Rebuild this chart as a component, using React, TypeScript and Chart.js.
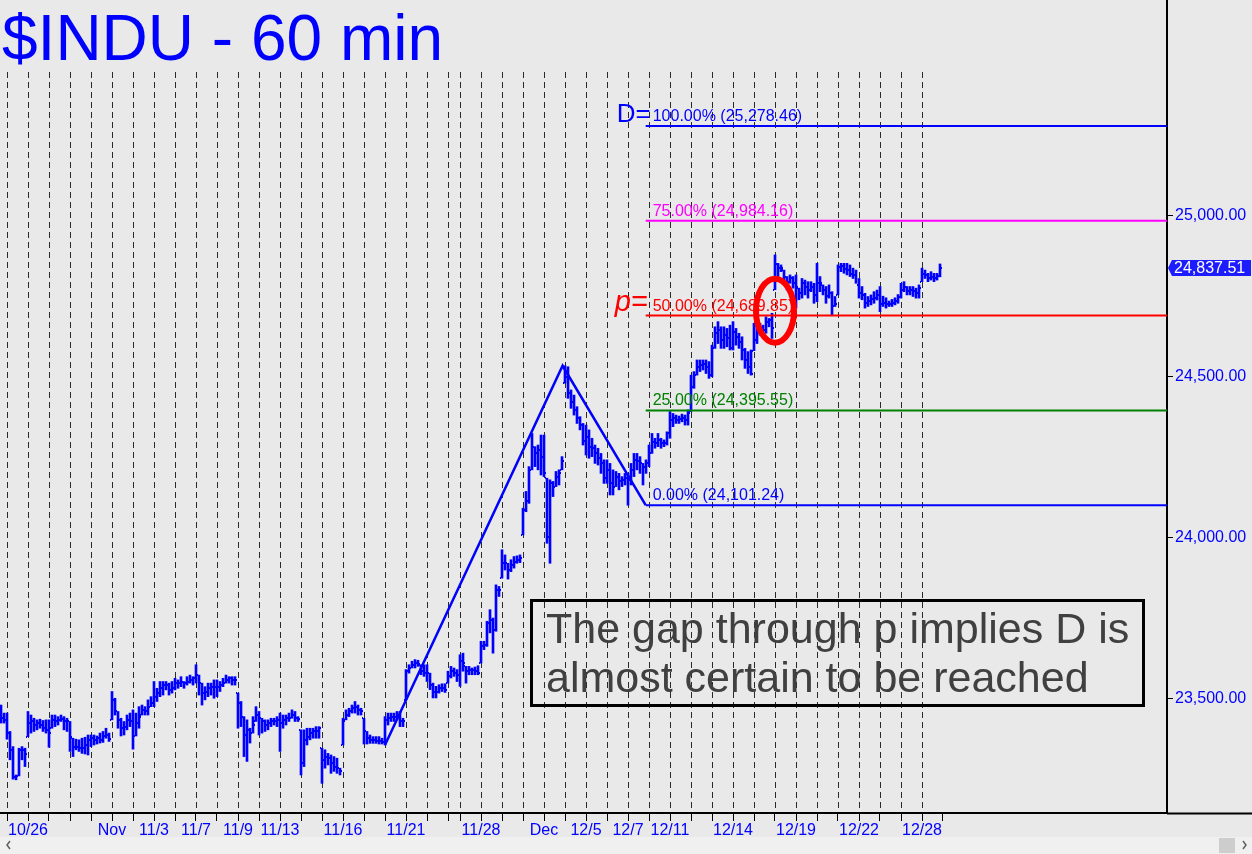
import React, { useEffect, useRef } from 'react';
import { Chart, registerables } from 'chart.js';

Chart.register(...registerables);

// ---------------- DATA ----------------
const dayDates = ['10/25','10/26','10/27','10/30','10/31','11/1','11/2','11/3','11/6','11/7','11/8','11/9','11/10','11/13','11/14','11/15','11/16','11/17','11/20','11/21','11/22','11/24','11/27','11/28','11/29','11/30','12/1','12/4','12/5','12/6','12/7','12/8','12/11','12/12','12/13','12/14','12/15','12/18','12/19','12/20','12/21','12/22','12/26','12/27','12/28','12/29'];
const dayBarCounts = [7,7,7,7,7,7,7,7,7,7,7,7,7,7,7,7,7,7,7,7,7,4,7,7,7,7,7,7,7,7,7,7,7,7,7,7,7,7,7,7,7,7,7,7,7,0];
const leadBars = 2; // last hourly bars of 10/24 visible at the left edge

const tickLabelDays = ['10/26','11/1','11/3','11/7','11/9','11/13','11/16','11/21','11/28','12/1','12/5','12/7','12/11','12/14','12/19','12/22','12/28'];
const tickLabelTexts = ['10/26','Nov','11/3','11/7','11/9','11/13','11/16','11/21','11/28','Dec','12/5','12/7','12/11','12/14','12/19','12/22','12/28'];

const highs = [
  23481, 23456,
  23456, 23399, 23352, 23264, 23347, 23352, 23347,
  23461, 23450, 23440, 23435, 23437, 23433, 23435,
  23435, 23450, 23450, 23445, 23450, 23445, 23440,
  23430, 23378, 23375, 23373, 23378, 23381, 23388,
  23388, 23388, 23385, 23394, 23399, 23409, 23394,
  23523, 23502, 23461, 23440, 23430, 23450, 23456,
  23466, 23456, 23476, 23481, 23476, 23497, 23507,
  23554, 23533, 23554, 23554, 23554, 23549, 23554,
  23564, 23559, 23569, 23554, 23569, 23574, 23569,
  23606, 23574, 23549, 23538, 23549, 23549, 23559,
  23559, 23554, 23564, 23574, 23569, 23569, 23569,
  23518, 23492, 23445, 23435, 23409, 23445, 23476,
  23461, 23440, 23435, 23435, 23440, 23440, 23445,
  23456, 23450, 23450, 23456, 23466, 23461, 23445,
  23404, 23404, 23409, 23409, 23409, 23414, 23414,
  23347, 23342, 23331, 23326, 23321, 23316, 23285,
  23440, 23466, 23471, 23481, 23492, 23481, 23471,
  23440, 23399, 23388, 23383, 23383, 23383, 23378,
  23445, 23456, 23456, 23456, 23461, 23461, 23440,
  23591, 23606, 23617, 23622, 23620, 23606, 23606,
  23606, 23580, 23549, 23539, 23544, 23547, 23547,
  23586, 23601, 23596, 23591,
  23637, 23642, 23601, 23601, 23596, 23599, 23603,
  23679, 23679, 23741, 23777, 23751, 23854, 23849,
  23963, 23947, 23921, 23932, 23942, 23944, 23947,
  24092, 24144, 24221, 24324, 24283, 24288, 24319,
  24319, 24185, 24180, 24175, 24206, 24211, 24252,
  24534.04, 24531, 24459, 24443, 24407, 24376, 24355,
  24350, 24335, 24309, 24288, 24278, 24262, 24242,
  24242, 24231, 24211, 24206, 24200, 24190, 24200,
  24200, 24231, 24262, 24262, 24252, 24231, 24242,
  24288, 24324, 24309, 24324, 24309, 24304, 24329,
  24392, 24386, 24381, 24378, 24384, 24381, 24397,
  24505, 24516, 24552, 24552, 24552, 24552, 24547,
  24598, 24655, 24671, 24655, 24655, 24650, 24660,
  24671, 24650, 24635, 24624, 24588, 24578, 24583,
  24666, 24671, 24666, 24660, 24686, 24681, 24697,
  24878, 24852, 24847, 24831, 24811, 24816, 24811,
  24816, 24775, 24805, 24800, 24795, 24795, 24790,
  24852, 24811, 24785, 24780, 24785, 24764, 24749,
  24847, 24852, 24852, 24852, 24847, 24837, 24831,
  24805, 24780, 24759, 24749, 24754, 24764, 24769,
  24780, 24750, 24745, 24735, 24740, 24745, 24755,
  24790, 24795, 24780, 24780, 24780, 24775, 24785,
  24837, 24831, 24821, 24826, 24821, 24821, 24850,
];

const lows = [
  23425, 23425,
  23375, 23311, 23251, 23249, 23261, 23311, 23290,
  23383, 23394, 23399, 23404, 23409, 23399, 23394,
  23350, 23409, 23414, 23419, 23430, 23404, 23399,
  23337, 23321, 23342, 23337, 23331, 23329, 23326,
  23352, 23357, 23360, 23363, 23365, 23378, 23368,
  23435, 23450, 23409, 23385, 23388, 23404, 23414,
  23344, 23385, 23409, 23450, 23450, 23450, 23476,
  23476, 23492, 23507, 23512, 23528, 23512, 23518,
  23528, 23533, 23538, 23533, 23543, 23549, 23543,
  23549, 23512, 23481, 23497, 23507, 23512, 23502,
  23507, 23523, 23538, 23549, 23549, 23543, 23543,
  23409, 23414, 23321, 23306, 23363, 23394, 23430,
  23388, 23394, 23399, 23404, 23414, 23419, 23414,
  23337, 23409, 23419, 23430, 23440, 23430, 23430,
  23264, 23290, 23357, 23373, 23378, 23378, 23378,
  23238, 23285, 23295, 23269, 23275, 23269, 23264,
  23357, 23435, 23445, 23456, 23456, 23450, 23450,
  23360, 23360, 23362, 23362, 23362, 23360, 23360,
  23357, 23419, 23430, 23430, 23435, 23414, 23414,
  23498, 23580, 23596, 23596, 23601, 23575, 23570,
  23554, 23529, 23503, 23503, 23518, 23523, 23520,
  23549, 23565, 23570, 23554,
  23539, 23586, 23549, 23575, 23575, 23575, 23575,
  23611, 23653, 23663, 23705, 23642, 23710, 23818,
  23875, 23900, 23872, 23895, 23906, 23921, 23923,
  24009, 24081, 24107, 24211, 24221, 24211, 24195,
  24190, 23983, 23921, 24128, 24159, 24164, 24211,
  24480, 24433, 24402, 24381, 24355, 24335, 24288,
  24257, 24247, 24252, 24231, 24226, 24200, 24169,
  24169, 24133, 24133, 24159, 24149, 24159, 24164,
  24101.24, 24164, 24190, 24211, 24200, 24164, 24200,
  24221, 24262, 24278, 24283, 24278, 24283, 24288,
  24309, 24345, 24355, 24355, 24360, 24350, 24350,
  24392, 24464, 24505, 24516, 24521, 24510, 24495,
  24500, 24588, 24603, 24588, 24588, 24593, 24583,
  24583, 24598, 24588, 24552, 24526, 24510, 24505,
  24581, 24603, 24629, 24635, 24635, 24655, 24619,
  24770, 24811, 24826, 24795, 24769, 24790, 24775,
  24713, 24739, 24744, 24754, 24744, 24764, 24728,
  24733, 24764, 24754, 24728, 24744, 24692, 24718,
  24754, 24826, 24821, 24816, 24811, 24805, 24790,
  24744, 24739, 24713, 24718, 24723, 24728, 24738,
  24702, 24718, 24713, 24718, 24718, 24723, 24728,
  24744, 24764, 24754, 24754, 24749, 24744, 24744,
  24795, 24805, 24795, 24800, 24795, 24800, 24810,
];

const closes = [
  23440, 23435,
  23394, 23342, 23259, 23261, 23342, 23342, 23329,
  23425, 23430, 23419, 23425, 23419, 23409, 23404,
  23394, 23435, 23430, 23435, 23437, 23433, 23430,
  23383, 23352, 23352, 23347, 23347, 23357, 23373,
  23378, 23373, 23378, 23373, 23385, 23388, 23375,
  23497, 23461, 23435, 23409, 23414, 23435, 23430,
  23385, 23425, 23445, 23466, 23461, 23476, 23487,
  23507, 23518, 23533, 23543, 23543, 23528, 23533,
  23549, 23549, 23554, 23549, 23554, 23559, 23564,
  23574, 23549, 23518, 23523, 23533, 23538, 23538,
  23538, 23543, 23549, 23559, 23564, 23559, 23559,
  23487, 23445, 23388, 23404, 23394, 23419, 23450,
  23440, 23430, 23419, 23425, 23430, 23430, 23435,
  23425, 23435, 23440, 23440, 23450, 23440, 23437,
  23300, 23373, 23383, 23394, 23399, 23399, 23409,
  23311, 23321, 23316, 23300, 23290, 23285, 23275,
  23430, 23450, 23461, 23471, 23476, 23466, 23461,
  23399, 23378, 23373, 23373, 23368, 23368, 23365,
  23435, 23440, 23445, 23445, 23450, 23430, 23430,
  23586, 23596, 23606, 23611, 23609, 23586, 23580,
  23580, 23544, 23523, 23523, 23534, 23534, 23529,
  23570, 23586, 23580, 23575,
  23617, 23611, 23586, 23591, 23589, 23586, 23580,
  23663, 23668, 23736, 23746, 23715, 23839, 23839,
  23921, 23921, 23900, 23916, 23926, 23932, 23937,
  24087, 24113, 24211, 24283, 24262, 24273, 24252,
  24200, 24004, 24169, 24159, 24190, 24200, 24237,
  24500, 24449, 24423, 24397, 24371, 24350, 24299,
  24314, 24283, 24278, 24262, 24247, 24231, 24185,
  24211, 24169, 24159, 24190, 24175, 24180, 24185,
  24180, 24211, 24242, 24237, 24231, 24221, 24231,
  24262, 24298, 24293, 24304, 24293, 24293, 24326,
  24366, 24371, 24366, 24368, 24371, 24366, 24386,
  24469, 24505, 24531, 24536, 24541, 24531, 24505,
  24588, 24635, 24645, 24614, 24629, 24619, 24588,
  24640, 24624, 24609, 24583, 24552, 24531, 24510,
  24614, 24655, 24650, 24645, 24671, 24676, 24651,
  24850, 24837, 24837, 24811, 24795, 24805, 24792,
  24780, 24760, 24790, 24780, 24770, 24780, 24754,
  24790, 24790, 24770, 24750, 24760, 24720, 24726,
  24840, 24845, 24835, 24830, 24820, 24815, 24785,
  24760, 24755, 24730, 24735, 24740, 24745, 24754,
  24725, 24730, 24725, 24725, 24730, 24735, 24746,
  24770, 24780, 24765, 24768, 24765, 24760, 24775,
  24820, 24815, 24805, 24810, 24805, 24812, 24837.51,
];

const yTicks = [23500, 24000, 24500, 25000];

// ABC pattern (bar index, price)
const abcX = [126, 185.2, 212.9];
const abcY = [23356.82, 24534.04, 24101.24];

const fibPct = ['100.00%', '75.00%', '50.00%', '25.00%', '0.00%'];
const fibVal = [25278.46, 24984.16, 24689.85, 24395.55, 24101.24];
const fibColor = ['#0000ff', '#ff00ff', '#ff0000', '#008000', '#0000ff'];

const gapBarIndex = 256; // 12/18 opening bar (circled)
const gapMidPrice = 24705;
const lastPrice = 24837.51;

const titleText = '$INDU - 60 min';
const noteLines = ['The gap through p implies D is', 'almost certain to be reached'];

// ---------------- DERIVED ----------------
const dayStarts: number[] = [];
{
  let s = 0;
  for (const c of dayBarCounts) { dayStarts.push(s); s += c; }
}
const barIndex = highs.map((_, k) => k - leadBars);
const opens = closes.map((c, k) => {
  const prev = k > 0 ? closes[k - 1] : c;
  return Math.min(highs[k], Math.max(lows[k], prev));
});

const W = 1252, H = 854;
const PLOT_RIGHT = 1167, AXIS_Y = 813;
const xMin = -7 / 3;
const xMax = (PLOT_RIGHT - 7) / 3;
const yMax = 25669.3;
const yMin = 23145.9;

const FONT = '"Liberation Sans", Arial, Helvetica, sans-serif';
const BG = '#e9e9e9';
const BLUE = '#0000ff';

const fmt = (v: number) =>
  Number(v).toLocaleString('en-US', { minimumFractionDigits: 2, maximumFractionDigits: 2 });

const overlay = {
  id: 'overlay',
  beforeDraw(chart: any) {
    const { ctx, chartArea } = chart;
    const xs = chart.scales.x;
    ctx.save();
    ctx.fillStyle = BG;
    ctx.fillRect(0, 0, W, H);
    // dashed day separators
    ctx.strokeStyle = '#2a2a2a';
    ctx.lineWidth = 1;
    ctx.setLineDash([6, 4]);
    dayStarts.forEach((s, k) => {
      if (dayBarCounts[k] === 0) return;
      const px = Math.round(xs.getPixelForValue(s)) + 0.5;
      ctx.beginPath();
      ctx.moveTo(px, 72);
      ctx.lineTo(px, chartArea.bottom);
      ctx.stroke();
    });
    ctx.restore();
  },
  afterDatasetsDraw(chart: any) {
    const { ctx, chartArea } = chart;
    const xs = chart.scales.x, ys = chart.scales.y;
    ctx.save();
    ctx.beginPath();
    ctx.rect(chartArea.left, chartArea.top, chartArea.right - chartArea.left, chartArea.bottom - chartArea.top);
    ctx.clip();
    ctx.fillStyle = BLUE;
    for (let k = 0; k < highs.length; k++) {
      const px = Math.round(xs.getPixelForValue(barIndex[k]));
      const yo = Math.round(ys.getPixelForValue(opens[k]));
      const yc = Math.round(ys.getPixelForValue(closes[k]));
      ctx.fillRect(px - 2, yo - 1, 1, 2);
      ctx.fillRect(px + 1, yc - 1, 1, 2);
    }
    ctx.restore();
  },
  afterDraw(chart: any) {
    const { ctx, chartArea } = chart;
    const xs = chart.scales.x, ys = chart.scales.y;
    ctx.save();

    // axis line extension under price labels
    ctx.strokeStyle = '#000';
    ctx.lineWidth = 2;
    ctx.beginPath();
    ctx.moveTo(chartArea.right, AXIS_Y + 0.5);
    ctx.lineTo(W, AXIS_Y + 0.5);
    ctx.stroke();

    // title
    ctx.fillStyle = BLUE;
    ctx.font = `64px ${FONT}`;
    ctx.textAlign = 'left';
    ctx.textBaseline = 'alphabetic';
    ctx.fillText(titleText, 2, 60);

    // fib labels
    const xC = xs.getPixelForValue(abcX[2]);
    ctx.font = `16px ${FONT}`;
    fibVal.forEach((v, k) => {
      const py = ys.getPixelForValue(v);
      ctx.fillStyle = fibColor[k];
      ctx.fillText(`${fibPct[k]} (${fmt(v)})`, xC + 7, py - 5);
    });
    // D= and p=
    ctx.fillStyle = BLUE;
    ctx.font = `26px ${FONT}`;
    ctx.textAlign = 'right';
    ctx.fillText('D=', xC + 5, ys.getPixelForValue(fibVal[0]) - 4);
    ctx.fillStyle = '#ff0000';
    ctx.font = `italic 29px ${FONT}`;
    ctx.fillText('p=', xC + 2, ys.getPixelForValue(fibVal[2]) - 5);

    // circled gap
    ctx.strokeStyle = '#ff0000';
    ctx.lineWidth = 6;
    ctx.beginPath();
    ctx.ellipse(xs.getPixelForValue(gapBarIndex), ys.getPixelForValue(gapMidPrice), 19, 32, 0, 0, Math.PI * 2);
    ctx.stroke();

    // note box
    ctx.strokeStyle = '#000';
    ctx.lineWidth = 3;
    ctx.strokeRect(531.5, 600.5, 612, 105);
    ctx.fillStyle = '#404040';
    ctx.font = `43px ${FONT}`;
    ctx.textAlign = 'left';
    ctx.fillText(noteLines[0], 546, 643);
    ctx.fillText(noteLines[1], 546, 692);

    // last price marker
    const py = Math.round(ys.getPixelForValue(lastPrice));
    ctx.fillStyle = '#1c1cff';
    ctx.beginPath();
    ctx.moveTo(chartArea.right + 1, py);
    ctx.lineTo(chartArea.right + 5, py - 8);
    ctx.lineTo(W - 1, py - 8);
    ctx.lineTo(W - 1, py + 8);
    ctx.lineTo(chartArea.right + 5, py + 8);
    ctx.closePath();
    ctx.fill();
    ctx.fillStyle = '#ffffff';
    ctx.font = `16px ${FONT}`;
    ctx.textBaseline = 'middle';
    ctx.fillText(fmt(lastPrice), chartArea.right + 7, py + 1);

    // scrollbar strip
    ctx.fillStyle = '#f0f0f0';
    ctx.fillRect(0, 837, W, H - 837);
    ctx.fillStyle = '#cdcdcd';
    ctx.fillRect(1219, 838, 16, 15);
    ctx.strokeStyle = '#606060';
    ctx.lineWidth = 1.5;
    ctx.beginPath();
    ctx.moveTo(10, 841); ctx.lineTo(7, 845); ctx.lineTo(10, 849);
    ctx.moveTo(1243, 841); ctx.lineTo(1246, 845); ctx.lineTo(1243, 849);
    ctx.stroke();
    ctx.restore();
  },
};

export default function App() {
  const ref = useRef<HTMLCanvasElement>(null);
  useEffect(() => {
    const canvas = ref.current;
    if (!canvas) return;
    const chart = new Chart(canvas, {
      type: 'bar',
      data: {
        datasets: [
          {
            type: 'line',
            data: abcX.map((x, i) => ({ x, y: abcY[i] })),
            borderColor: BLUE,
            borderWidth: 2.5,
            pointRadius: 0,
            fill: false,
            tension: 0,
            order: 1,
          } as any,
          ...fibVal.map((v, k) => ({
            type: 'line',
            data: [{ x: abcX[2], y: v }, { x: xMax, y: v }],
            borderColor: fibColor[k],
            borderWidth: 2,
            pointRadius: 0,
            fill: false,
            order: 1,
          } as any)),
          {
            type: 'bar',
            data: barIndex.map((i, k) => ({ x: i, y: [lows[k], highs[k]] })),
            backgroundColor: BLUE,
            borderWidth: 0,
            barThickness: 2,
            grouped: false,
            order: 2,
          } as any,
        ],
      },
      options: {
        responsive: false,
        animation: false,
        devicePixelRatio: 1,
        events: [],
        layout: { padding: 0 },
        plugins: { legend: { display: false }, tooltip: { enabled: false }, title: { display: false } },
        scales: {
          x: {
            type: 'linear',
            position: 'bottom',
            min: xMin,
            max: xMax,
            offset: false,
            bounds: 'data',
            afterBuildTicks: (s: any) => { s.ticks = dayStarts.map((v) => ({ value: v })); },
            afterFit: (s: any) => { s.height = H - AXIS_Y; s.paddingLeft = 0; s.paddingRight = 0; },
            ticks: {
              autoSkip: false,
              maxRotation: 0,
              minRotation: 0,
              padding: 0,
              color: BLUE,
              font: { family: FONT, size: 16 },
              callback: (_v: any, idx: number) => {
                const j = tickLabelDays.indexOf(dayDates[idx]);
                return j >= 0 ? tickLabelTexts[j] : '';
              },
            },
            grid: { display: true, drawOnChartArea: false, drawTicks: true, tickLength: 8, tickColor: '#000', tickWidth: 1, offset: false },
            border: { display: true, color: '#000', width: 2 },
          },
          y: {
            type: 'linear',
            position: 'right',
            min: yMin,
            max: yMax,
            beginAtZero: false,
            bounds: 'data',
            afterBuildTicks: (s: any) => { s.ticks = yTicks.map((v) => ({ value: v })); },
            afterFit: (s: any) => { s.width = W - PLOT_RIGHT; s.paddingTop = 0; s.paddingBottom = 0; },
            ticks: {
              padding: 2,
              color: BLUE,
              font: { family: FONT, size: 16 },
              callback: (v: any) => fmt(v),
            },
            grid: { display: true, drawOnChartArea: false, drawTicks: true, tickLength: 6, tickColor: '#000' },
            border: { display: true, color: '#000', width: 2 },
          },
        },
      } as any,
      plugins: [overlay],
    });
    return () => chart.destroy();
  }, []);
  return (
    <div style={{ position: 'absolute', left: 0, top: 0, width: W, height: H }}>
      <canvas ref={ref} width={W} height={H} style={{ display: 'block', width: W, height: H }} />
    </div>
  );
}
